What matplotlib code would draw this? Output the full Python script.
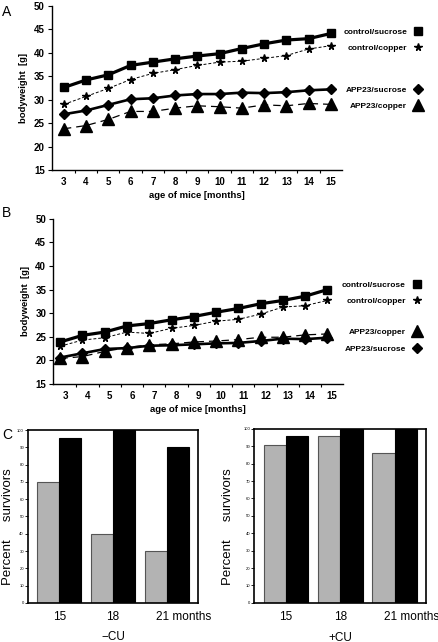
import matplotlib.pyplot as plt
from matplotlib.lines import Line2D
import numpy as np

plt.rcParams['font.family'] = ['Liberation Sans', 'DejaVu Sans']

# bodyweight data
months = [3, 4, 5, 6, 7, 8, 9, 10, 11, 12, 13, 14, 15]

a_ctrl_suc = [32.6, 34.2, 35.3, 37.3, 38.0, 38.7, 39.3, 39.8, 40.9, 41.9, 42.7, 43.0, 44.1]
a_ctrl_cu = [29.0, 30.7, 32.4, 34.3, 35.6, 36.4, 37.3, 38.0, 38.2, 38.8, 39.4, 40.8, 41.5]
a_app_suc = [26.9, 27.7, 28.9, 30.1, 30.3, 30.9, 31.2, 31.2, 31.5, 31.4, 31.6, 32.0, 32.2]
a_app_cu = [23.8, 24.5, 25.8, 27.5, 27.5, 28.2, 28.7, 28.5, 28.2, 28.9, 28.7, 29.2, 29.0]

b_ctrl_suc = [23.9, 25.3, 26.0, 27.3, 27.8, 28.6, 29.3, 30.2, 31.0, 32.0, 32.7, 33.6, 35.0]
b_ctrl_cu = [23.0, 24.3, 24.8, 26.0, 25.7, 26.8, 27.4, 28.3, 28.7, 29.8, 31.3, 31.6, 32.7]
b_app_suc = [20.6, 21.5, 22.4, 22.6, 23.1, 23.2, 23.4, 23.6, 23.7, 24.1, 24.6, 24.5, 24.8]
b_app_cu = [20.4, 20.8, 21.9, 22.7, 23.3, 23.5, 23.9, 24.1, 24.4, 24.9, 24.9, 25.4, 25.6]

# survival data
surv_groups = ['15', '18', '21 months']
minus_cu_grey = [70, 40, 30]
minus_cu_black = [95.5, 100, 90.5]
plus_cu_grey = [91, 96, 86]
plus_cu_black = [96, 100, 100]

fig = plt.figure(figsize=(4.39, 6.42), dpi=100)

bold = dict(fontsize=6.8, fontweight='bold')

styles = {
    'ctrl_suc': dict(color='k', lw=2.3, ls='-', marker='s', ms=5.5),
    'ctrl_cu': dict(color='k', lw=0.7, ls=(0, (3, 2)), marker='*', ms=5.5),
    'app_suc': dict(color='k', lw=1.9, ls='-', marker='D', ms=5),
    'app_cu': dict(color='k', lw=0.9, ls=(0, (6, 4)), marker='^', ms=8),
}


def weight_panel(rect, xs, series, leg1, leg2, pos1, pos2):
    ax = fig.add_axes(rect)
    for key, vals in series:
        ax.plot(xs, vals, clip_on=False, **styles[key])
    ax.set_xlim(2.46, 15.5)
    ax.set_ylim(15, 50)
    ax.set_yticks(range(15, 51, 5))
    ax.set_xticks(months)
    ax.set_xticks(np.arange(3.5, 15, 1), minor=True)
    ax.tick_params(axis='x', which='major', length=0, pad=5)
    ax.tick_params(axis='x', which='minor', length=2.5, width=0.8)
    ax.tick_params(axis='y', length=3, width=0.8, pad=2)
    for lab in ax.get_xticklabels() + ax.get_yticklabels():
        lab.set_fontweight('bold')
        lab.set_fontsize(7)
    ax.spines['top'].set_visible(False)
    ax.spines['right'].set_visible(False)
    ax.spines['left'].set_linewidth(1.0)
    ax.spines['bottom'].set_linewidth(1.0)
    ax.set_xlabel('age of mice [months]', labelpad=3, **bold)
    ax.set_ylabel('bodyweight  [g]', labelpad=4, **bold)
    for entries, pos in ((leg1, pos1), (leg2, pos2)):
        handles = []
        for key, lab in entries:
            st = styles[key]
            handles.append(Line2D([], [], color='k', ls='none', marker=st['marker'],
                                  ms=st['ms'], label=lab))
        fig.legend(handles=handles, loc='upper right', bbox_to_anchor=pos,
                   markerfirst=False, frameon=False, handlelength=0.6,
                   handletextpad=1.0, labelspacing=1.0,
                   prop=dict(size=6, weight='bold'))
    return ax


axA = weight_panel([0.118, 0.735, 0.661, 0.256], months,
                   [('ctrl_suc', a_ctrl_suc), ('ctrl_cu', a_ctrl_cu),
                    ('app_suc', a_app_suc), ('app_cu', a_app_cu)],
                   [('ctrl_suc', 'control/sucrose'), ('ctrl_cu', 'control/copper')],
                   [('app_suc', 'APP23/sucrose'), ('app_cu', 'APP23/copper')],
                   (0.975, 0.968), (0.975, 0.878))

xs_b = [m - 0.22 for m in months]
axB = weight_panel([0.121, 0.402, 0.661, 0.257], xs_b,
                   [('ctrl_suc', b_ctrl_suc), ('ctrl_cu', b_ctrl_cu),
                    ('app_cu', b_app_cu), ('app_suc', b_app_suc)],
                   [('ctrl_suc', 'control/sucrose'), ('ctrl_cu', 'control/copper')],
                   [('app_cu', 'APP23/copper'), ('app_suc', 'APP23/sucrose')],
                   (0.972, 0.574), (0.972, 0.5))


def surv_panel(rect, grey, black, sub, ylab_x):
    ax = fig.add_axes(rect)
    step = 2.43
    g = np.arange(len(grey)) * step
    ax.bar(g + 0.5, grey, width=1.0, color='#b3b3b3', edgecolor='#555555', lw=0.8)
    ax.bar(g + 1.5, black, width=1.0, color='k', edgecolor='k', lw=0.8)
    ax.set_xlim(-0.42, g[-1] + 2.42)
    ax.set_ylim(0, 100)
    ax.set_yticks(range(0, 101, 10))
    ax.tick_params(axis='y', length=2, width=0.6, labelsize=3, pad=1)
    ticks = [g[0] + 1, g[1] + 1, g[2] + 1.75]
    ax.set_xticks(ticks)
    ax.set_xticklabels(surv_groups, fontsize=8.5)
    ax.tick_params(axis='x', length=0, pad=6)
    for s in ax.spines.values():
        s.set_linewidth(1.2)
    ax.set_ylabel('Percent     survivors', fontsize=9.5)
    ax.yaxis.set_label_coords(ylab_x, 0.44)
    ax.text(g[1] + 1, -0.165, sub, transform=ax.get_xaxis_transform(),
            ha='center', va='top', fontsize=8.5)
    return ax


surv_panel([0.064, 0.061, 0.387, 0.269], minus_cu_grey, minus_cu_black, '\u2212CU', -0.085)
surv_panel([0.579, 0.061, 0.392, 0.271], plus_cu_grey, plus_cu_black, '+CU', -0.12)

fig.text(0.004, 0.982, 'A', fontsize=10, va='center')
fig.text(0.004, 0.668, 'B', fontsize=10, va='center')
fig.text(0.004, 0.322, 'C', fontsize=10, va='center')

fig.savefig('out.png', dpi=100)
